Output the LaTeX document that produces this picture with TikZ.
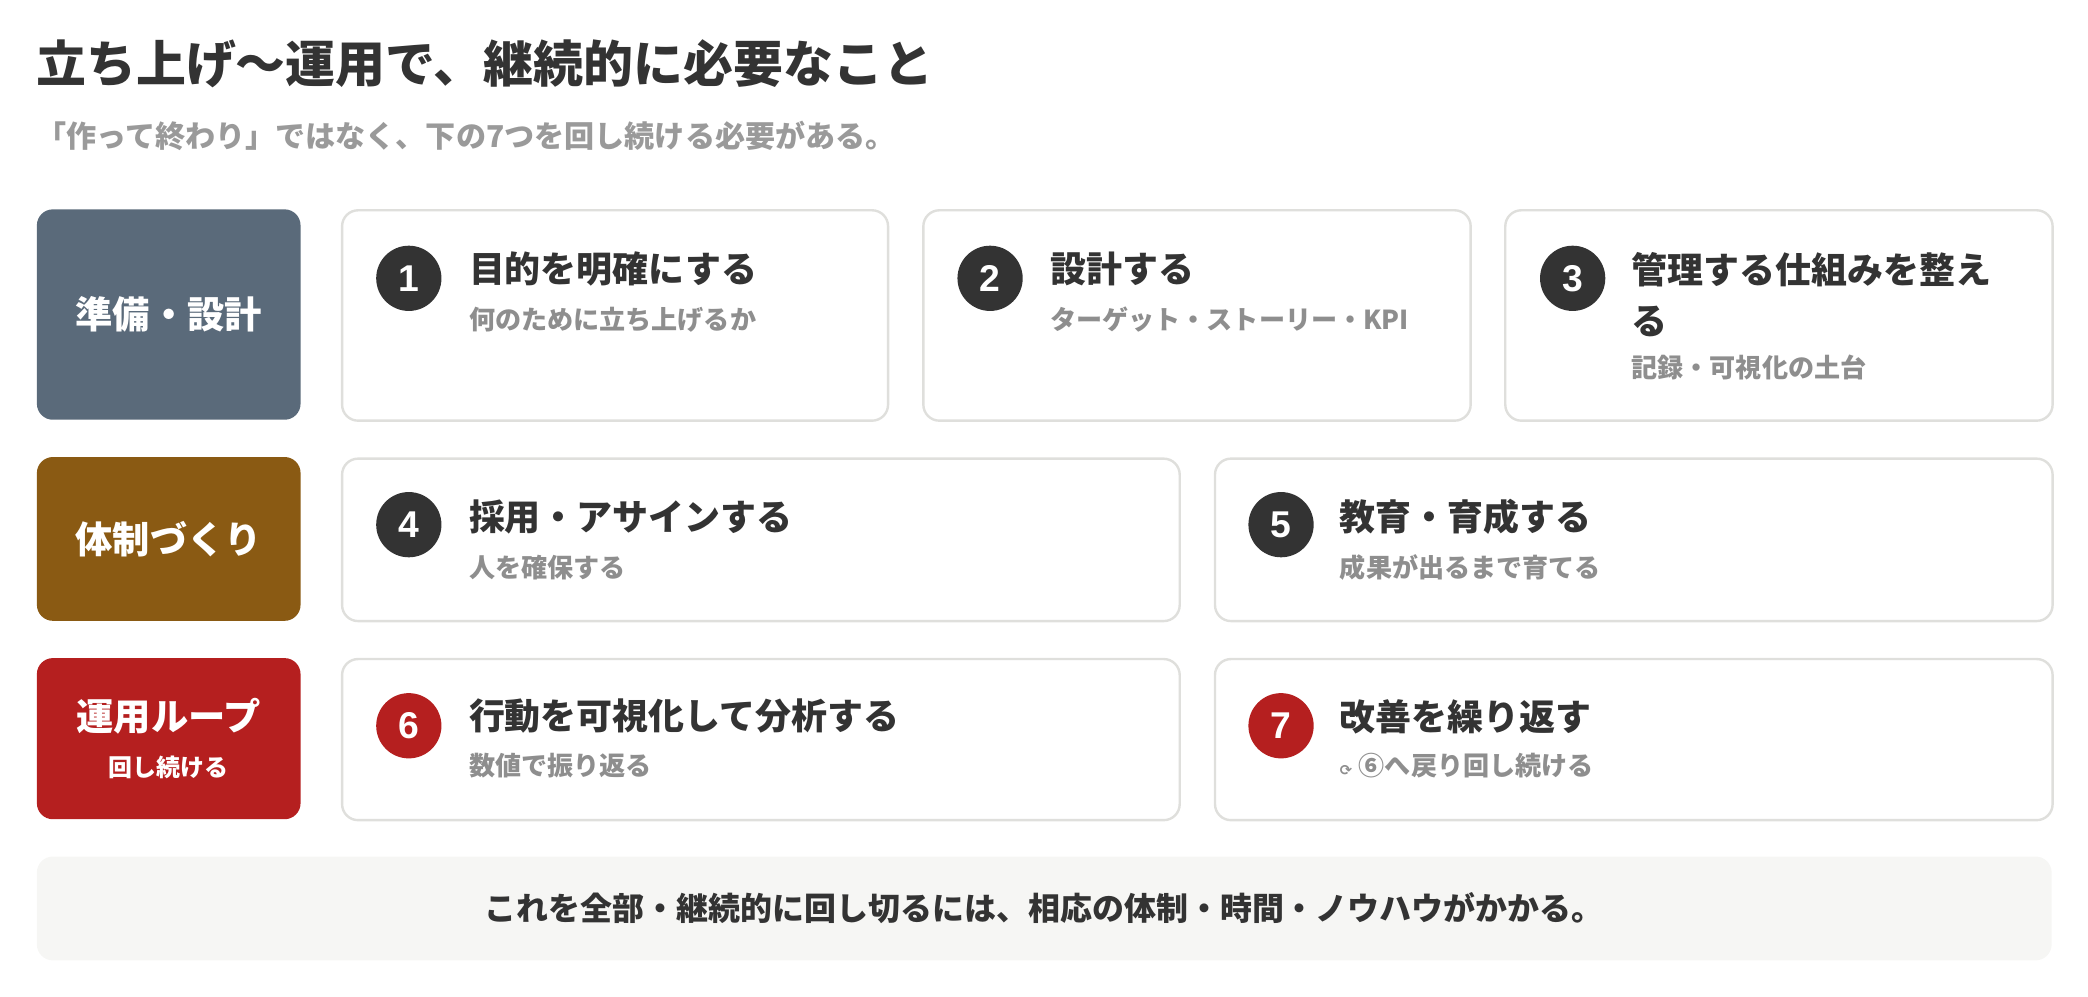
\documentclass[tikz,border=0pt]{standalone}
\usepackage{fontspec}
\setmainfont{Noto Sans CJK JP}
\newfontfamily\symfont{DejaVu Sans}
\newfontfamily\numfont{Liberation Sans}
\definecolor{txt}{HTML}{333333}
\definecolor{subgray}{HTML}{8E8E8E}
\definecolor{leadgray}{HTML}{9A9A9A}
\definecolor{cardline}{HTML}{DFDFDC}
\definecolor{slate}{HTML}{5A6A7A}
\definecolor{brown}{HTML}{8A5A13}
\definecolor{loopred}{HTML}{B51F1F}
\definecolor{numdark}{HTML}{333333}
\definecolor{notebg}{HTML}{F6F6F4}
\tikzset{
  catbox/.style={rounded corners=12pt, minimum width=198pt, anchor=north west, inner sep=0pt, text=white, align=center, font=\bfseries\fontsize{28}{35}\selectfont},
  card/.style={draw=cardline, line width=1.8pt, rounded corners=12pt, fill=white, anchor=north west, inner sep=0pt},
  num/.style={circle, minimum size=49pt, inner sep=0pt, text=white, font=\numfont\bfseries\fontsize{28}{28}\selectfont},
  ttl/.style={anchor=west, inner sep=0pt, text=txt, font=\bfseries\fontsize{27}{39}\selectfont},
  sub/.style={anchor=west, inner sep=0pt, text=subgray, font=\bfseries\fontsize{19.6}{22}\selectfont}
}
\begin{document}
\begin{tikzpicture}[x=1pt,y=-1pt]
\useasboundingbox (0,0) rectangle (1568,748);
% heading
\node[anchor=west, inner sep=0pt, text=txt, font=\bfseries\fontsize{37.5}{40}\selectfont] (title) at (27,48) {立ち上げ〜運用で、継続的に必要なこと};
\node[anchor=west, inner sep=0pt, text=leadgray, font=\bfseries\fontsize{22.6}{26}\selectfont] (lead) at (27,102) {「作って終わり」ではなく、下の7つを回し続ける必要がある。};
% row 1
\node[catbox, fill=slate, minimum height=158pt] (cat1) at (27.5,157) {準備・設計};
\node[card, minimum width=410pt, minimum height=158pt] (c1) at (256,157) {};
\node[card, minimum width=411pt, minimum height=158pt] (c2) at (692.5,157) {};
\node[card, minimum width=411pt, minimum height=158pt] (c3) at (1129.5,157) {};
\node[num, fill=numdark] (n1) at (307,209) {1};
\node[num, fill=numdark] (n2) at (743.5,209) {2};
\node[num, fill=numdark] (n3) at (1181,209) {3};
\node[ttl] (t1) at (352,202) {目的を明確にする};
\node[sub] (s1) at (352,240) {何のために立ち上げるか};
\node[ttl] (t2) at (788.5,202) {設計する};
\node[sub] (s2) at (788.5,240) {ターゲット・ストーリー・KPI};
\node[ttl, anchor=north west, align=left] (t3) at (1225,189) {管理する仕組みを整え\\る};
\node[sub] (s3) at (1225,276) {記録・可視化の土台};
% row 2
\node[catbox, fill=brown, minimum height=123pt] (cat2) at (27.5,343) {体制づくり};
\node[card, minimum width=629pt, minimum height=122pt] (c4) at (256,343.5) {};
\node[card, minimum width=629pt, minimum height=122pt] (c5) at (911.5,343.5) {};
\node[num, fill=numdark] (n4) at (307,394) {4};
\node[num, fill=numdark] (n5) at (962,394) {5};
\node[ttl] (t4) at (352,388) {採用・アサインする};
\node[sub] (s4) at (352,426) {人を確保する};
\node[ttl] (t5) at (1006,388) {教育・育成する};
\node[sub] (s5) at (1006,426) {成果が出るまで育てる};
% row 3
\node[catbox, fill=loopred, minimum height=121pt] (cat3) at (27.5,494) {運用ループ\\{\fontsize{18}{35}\selectfont 回し続ける}};
\node[card, minimum width=629pt, minimum height=121pt] (c6) at (256,494) {};
\node[card, minimum width=629pt, minimum height=121pt] (c7) at (911.5,494) {};
\node[num, fill=loopred] (n6) at (307,545) {6};
\node[num, fill=loopred] (n7) at (962,545) {7};
\node[ttl] (t6) at (352,538) {行動を可視化して分析する};
\node[sub] (s6) at (352,575) {数値で振り返る};
\node[ttl] (t7) at (1006,538) {改善を繰り返す};
\node[sub] (s7) at (1006,575) {{\symfont\fontsize{11}{11}\selectfont ⟳}\hspace{5pt}⑥へ戻り回し続ける};
% note
\node[fill=notebg, rounded corners=12pt, minimum width=1513pt, minimum height=78pt, anchor=north west, inner sep=0pt, text=txt, font=\bfseries\fontsize{24}{26}\selectfont] (note) at (27.5,643) {これを全部・継続的に回し切るには、相応の体制・時間・ノウハウがかかる。};
\end{tikzpicture}
\end{document}
